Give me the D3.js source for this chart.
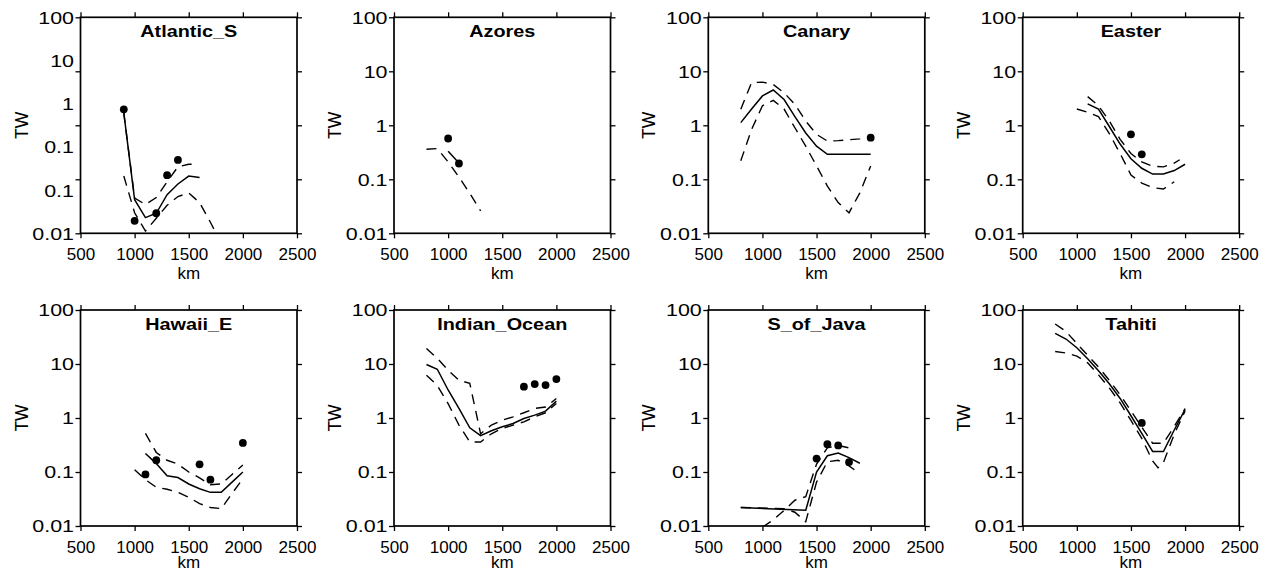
<!DOCTYPE html>
<html><head><meta charset="utf-8">
<script src="https://cdn.jsdelivr.net/npm/d3@7"></script>
<style>
body{margin:0;background:#fff;}
svg{display:block;}
text{font-family:"Liberation Sans",Arial,Helvetica,sans-serif;fill:#000;}
</style>
</head><body>
<svg id="c" width="1275" height="576"></svg>
<script>
// ---------- tick labels ----------
const xTicks = [500, 1000, 1500, 2000, 2500];
const yTicks = [0.01, 0.1, 1, 10, 100];
const yTickLabels = ["0.01", "0.1", "1", "10", "100"];
const atlanticYLabels = ["0.01", "0.1", "0.1", "1", "10", "100"];
const xTitle = "km", yTitle = "TW";

// ---------- data: [km, TW] ----------
const atlS_solid = [[900,1.7],[1000,0.042],[1100,0.0195],[1200,0.0235],[1300,0.052],[1400,0.082],[1500,0.115],[1600,0.108]];
const atlS_upper = [[900,1.7],[1000,0.045],[1100,0.034],[1200,0.046],[1300,0.09],[1400,0.17],[1500,0.19],[1550,0.19]];
const atlS_lower = [[900,0.115],[1000,0.024],[1100,0.011],[1200,0.019],[1300,0.033],[1400,0.048],[1500,0.056],[1600,0.037],[1700,0.016],[1800,0.0065]];
const atlS_dots  = [[900,1.98],[1000,0.017],[1200,0.0235],[1300,0.119],[1400,0.228]];

const azo_solid = [[1000,0.33],[1100,0.2]];
const azo_upper = [[800,0.36],[900,0.37],[1000,0.21],[1100,0.11],[1200,0.055],[1300,0.026]];
const azo_lower = [];
const azo_dots  = [[1000,0.57],[1100,0.196]];

const can_solid = [[800,1.12],[900,2.0],[1000,3.5],[1100,4.5],[1200,3.0],[1300,1.45],[1400,0.72],[1500,0.41],[1600,0.29],[1700,0.29],[1800,0.29],[1900,0.29],[2000,0.29]];
const can_upper = [[800,1.98],[900,6.2],[1000,6.3],[1100,5.7],[1200,4.0],[1300,2.45],[1400,1.2],[1500,0.68],[1600,0.51],[1700,0.52],[1800,0.54],[1900,0.56],[2000,0.59]];
const can_lower = [[800,0.22],[900,0.84],[1000,2.3],[1100,2.9],[1200,2.0],[1300,0.9],[1400,0.41],[1500,0.177],[1600,0.075],[1700,0.037],[1800,0.024],[1900,0.056],[2000,0.177]];
const can_dots  = [[2000,0.59]];

const eas_solid = [[1100,2.5],[1200,2.0],[1300,0.95],[1400,0.45],[1500,0.24],[1600,0.16],[1700,0.125],[1800,0.125],[1900,0.145],[2000,0.19]];
const eas_upper = [[1100,3.4],[1200,2.3],[1300,1.2],[1400,0.55],[1500,0.3],[1600,0.21],[1700,0.175],[1800,0.17],[1900,0.2],[1950,0.23]];
const eas_lower = [[1000,2.0],[1100,1.75],[1200,1.45],[1300,0.7],[1400,0.3],[1500,0.12],[1600,0.085],[1700,0.07],[1800,0.066],[1900,0.09]];
const eas_dots  = [[1500,0.68],[1600,0.29]];

const haw_solid = [[1100,0.22],[1200,0.143],[1300,0.085],[1400,0.079],[1500,0.06],[1600,0.049],[1700,0.042],[1800,0.042],[1900,0.065],[2000,0.1]];
const haw_upper = [[1100,0.52],[1200,0.23],[1300,0.165],[1400,0.14],[1500,0.1],[1600,0.078],[1700,0.058],[1800,0.06],[1900,0.09],[2000,0.135]];
const haw_lower = [[1000,0.11],[1100,0.072],[1200,0.052],[1300,0.048],[1400,0.042],[1500,0.034],[1600,0.026],[1700,0.022],[1800,0.021],[1900,0.04],[2000,0.075]];
const haw_dots  = [[1100,0.09],[1200,0.165],[1600,0.139],[1700,0.072],[2000,0.345]];

const ind_solid = [[800,9.8],[900,8.0],[1000,3.3],[1100,1.5],[1200,0.66],[1300,0.47],[1400,0.58],[1500,0.69],[1600,0.79],[1700,0.98],[1800,1.13],[1900,1.34],[2000,2.05]];
const ind_upper = [[800,19.4],[900,12.7],[1000,7.7],[1100,5.0],[1200,4.4],[1300,0.51],[1400,0.74],[1500,0.91],[1600,1.05],[1700,1.25],[1800,1.5],[1900,1.6],[2000,2.3]];
const ind_lower = [[800,6.2],[900,4.0],[1000,1.85],[1100,0.74],[1200,0.36],[1300,0.36],[1400,0.51],[1500,0.64],[1600,0.74],[1700,0.85],[1800,1.05],[1900,1.25],[2000,1.85]];
const ind_dots  = [[1700,3.8],[1800,4.24],[1900,4.07],[2000,5.25]];

const jav_solid = [[800,0.022],[1400,0.0195],[1500,0.1],[1600,0.2],[1700,0.225],[1800,0.185],[1900,0.145]];
const jav_upper = [[1000,0.0095],[1100,0.013],[1200,0.0195],[1300,0.03],[1400,0.035],[1500,0.14],[1600,0.28],[1700,0.31],[1800,0.28]];
const jav_lower = [[800,0.022],[1200,0.021],[1300,0.018],[1400,0.012],[1500,0.065],[1600,0.155],[1700,0.165],[1800,0.13],[1850,0.11]];
const jav_dots  = [[1500,0.177],[1600,0.327],[1700,0.31],[1800,0.153]];

const tah_solid = [[800,37],[900,29],[1000,20],[1100,12.5],[1200,7.5],[1300,4.3],[1400,2.3],[1500,1.1],[1600,0.52],[1700,0.24],[1800,0.24],[1900,0.6],[2000,1.45]];
const tah_upper = [[800,55],[900,40],[1000,24],[1100,14.5],[1200,8.8],[1300,5.0],[1400,2.7],[1500,1.35],[1600,0.68],[1700,0.34],[1800,0.34],[1900,0.7],[2000,1.5]];
const tah_lower = [[800,17],[900,16],[1000,14],[1100,10.5],[1200,6.3],[1300,3.6],[1400,1.9],[1500,0.9],[1600,0.42],[1700,0.16],[1750,0.12],[1800,0.15],[1900,0.5],[2000,1.35]];
const tah_dots  = [[1600,0.81]];

const panels = [
  {name:"Atlantic_S",   solid:atlS_solid, upper:atlS_upper, lower:atlS_lower, dots:atlS_dots, yLabels:atlanticYLabels},
  {name:"Azores",       solid:azo_solid,  upper:azo_upper,  lower:azo_lower,  dots:azo_dots},
  {name:"Canary",       solid:can_solid,  upper:can_upper,  lower:can_lower,  dots:can_dots},
  {name:"Easter",       solid:eas_solid,  upper:eas_upper,  lower:eas_lower,  dots:eas_dots},
  {name:"Hawaii_E",     solid:haw_solid,  upper:haw_upper,  lower:haw_lower,  dots:haw_dots},
  {name:"Indian_Ocean", solid:ind_solid,  upper:ind_upper,  lower:ind_lower,  dots:ind_dots},
  {name:"S_of_Java",    solid:jav_solid,  upper:jav_upper,  lower:jav_lower,  dots:jav_dots},
  {name:"Tahiti",       solid:tah_solid,  upper:tah_upper,  lower:tah_lower,  dots:tah_dots}
];

// ---------- layout ----------
const svg = d3.select("#c");
const W = 216.5, H = 216;
const lefts = [80.5, 394, 708.3, 1022.7];
const tops = [17.3, 310];
const kmOffset = [46, 42];
const tickLen = 5;

panels.forEach((p, i) => {
  const col = i % 4, row = Math.floor(i / 4);
  const g = svg.append("g").attr("transform", `translate(${lefts[col]},${tops[row]})`);
  const x = d3.scaleLinear().domain([500, 2500]).range([0, W]);
  const y = d3.scaleLog().domain([0.01, 100]).range([H, 0]);

  const clipId = "clip" + i;
  g.append("clipPath").attr("id", clipId).append("rect")
    .attr("x", 0).attr("y", 0).attr("width", W).attr("height", H);

  const line = d3.line().x(d => x(d[0])).y(d => y(d[1]));
  const plot = g.append("g").attr("clip-path", `url(#${clipId})`);

  [p.upper, p.lower].forEach(s => {
    if (s.length) plot.append("path").datum(s).attr("d", line)
      .attr("fill", "none").attr("stroke", "#000").attr("stroke-width", 1.4)
      .attr("stroke-dasharray", "10,7");
  });
  plot.append("path").datum(p.solid).attr("d", line)
    .attr("fill", "none").attr("stroke", "#000").attr("stroke-width", 1.5);
  plot.selectAll("circle").data(p.dots).join("circle")
    .attr("cx", d => x(d[0])).attr("cy", d => y(d[1])).attr("r", 3.9).attr("fill", "#000");

  // axes
  const styleAxis = a => {
    a.attr("color", "#000");
    a.select(".domain").remove();
    a.selectAll(".tick line").attr("stroke-width", 1.3);
  };
  const ax = g.append("g").attr("transform", `translate(0,${H})`)
    .call(d3.axisBottom(x).tickValues(xTicks).tickSize(tickLen).tickSizeOuter(0).tickPadding(10).tickFormat(d3.format("d")));
  styleAxis(ax);
  ax.selectAll("text").attr("font-size", 17).style("font-family", '"Liberation Sans",Arial,sans-serif');

  const axT = g.append("g").call(d3.axisTop(x).tickValues(xTicks).tickSize(tickLen).tickSizeOuter(0).tickFormat(""));
  styleAxis(axT);
  const axR = g.append("g").attr("transform", `translate(${W},0)`)
    .call(d3.axisRight(y).tickValues(yTicks).tickSize(tickLen).tickSizeOuter(0).tickFormat(""));
  styleAxis(axR);

  const ayAxis = d3.axisLeft(y).tickValues(yTicks).tickSize(tickLen).tickSizeOuter(0)
    .tickFormat(p.yLabels ? () => "" : (d, k) => yTickLabels[k]);
  const ay = g.append("g").call(ayAxis);
  styleAxis(ay);
  let labelSel = ay.selectAll("text");
  if (p.yLabels) {
    const ly = d3.scaleLinear().domain([0, p.yLabels.length - 1]).range([H, 0]);
    const al = g.append("g").call(d3.axisLeft(ly).tickValues(d3.range(p.yLabels.length))
      .tickSize(0).tickSizeOuter(0).tickFormat(k => p.yLabels[k]));
    al.attr("color", "#000");
    al.select(".domain").remove();
    labelSel = al.selectAll("text");
  }
  labelSel.attr("x", 0).attr("dy", "0.36em").attr("font-size", 16.5)
    .style("font-family", '"Liberation Sans",Arial,sans-serif')
    .attr("transform", "translate(-6.5,0) scale(1.3,1)");

  // frame
  g.append("rect").attr("x", 0).attr("y", 0).attr("width", W).attr("height", H)
    .attr("fill", "none").attr("stroke", "#000").attr("stroke-width", 1.7);

  // titles
  g.append("text").text(p.name)
    .attr("transform", `translate(${W / 2},20) scale(1.24,1)`)
    .attr("text-anchor", "middle").attr("font-size", 16).attr("font-weight", "bold");
  g.append("text").text(xTitle)
    .attr("x", W / 2).attr("y", H + kmOffset[row])
    .attr("text-anchor", "middle").attr("font-size", 17);
  g.append("text").text(yTitle)
    .attr("transform", `translate(-59,${H / 2}) rotate(-90)`)
    .attr("text-anchor", "middle").attr("dominant-baseline", "central").attr("font-size", 17.5);
});
</script>
</body></html>
